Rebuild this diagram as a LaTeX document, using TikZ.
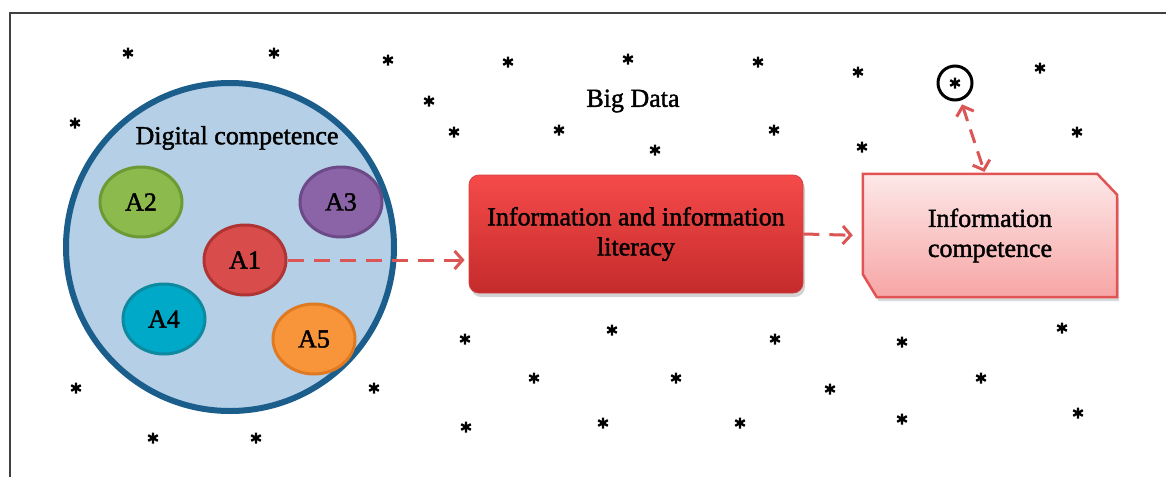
\documentclass[tikz,border=0pt]{standalone}
\usepackage{fontspec}
\setmainfont{Liberation Serif}[FakeBold=1.6]
\usetikzlibrary{positioning, arrows.meta, shadows, shapes.geometric}
\pgfdeclarelayer{background}
\pgfsetlayers{background,main}
\definecolor{poolfill}{HTML}{B4CFE6}
\definecolor{pooledge}{HTML}{1B5E8C}
\definecolor{dashred}{HTML}{DC5555}
\tikzset{
    x=1pt, y=-1pt, % one unit is one pixel of the reference, y grows downwards
    every node/.style={font=\fontsize{26}{30}\selectfont},
    blob/.style={ % the five small competence areas
        ellipse, draw, line width=3pt,
        minimum width=82pt, minimum height=70pt, inner sep=0pt
    },
    dasharrow/.style={ % red dashed connectors
        draw=dashred, line width=3pt, dash pattern=on 16pt off 10pt,
        -{Straight Barb[length=8pt,width=18pt,line width=3pt]}
    },
    ast/.pic={ % one asterisk of the big data cloud
        \draw[line width=2.4pt] (0,-5.5) -- (0,5.5)
            (-4.8,-2.8) -- (4.8,2.8) (-4.8,2.8) -- (4.8,-2.8);
    }
}
\begin{document}
\begin{tikzpicture}
    \useasboundingbox (0,0) rectangle (1166,477);
    \draw[line width=1.5pt, black!75] (10,477) -- (10,13) -- (1166,13);

    % big data cloud
    \foreach \p in {(128,53),(274,53),(388,60),(508,62),(628,59),(758,62),(858,72),(1040,68),
                    (75,123),(429,101),(454,132),(559,130),(655,150),(774,130),(862,147),(1077,132),
                    (76,388),(374,388),(153,438),(256,438),
                    (465,339),(612,330),(775,339),(902,342),(1062,328),
                    (534,378),(676,378),(830,389),(981,378),
                    (466,427),(603,423),(740,423),(902,419),(1078,413)}
        \pic at \p {ast};
    \node (bigdata) at (633,101) {Big Data};

    % digital competence
    \node[circle, draw=pooledge, fill=poolfill, line width=6pt, minimum size=328pt] (pool) at (230,247) {};
    \node (pooltitle) at (237,138) {Digital competence};
    \node[blob, fill={rgb,255:red,140;green,186;blue,76}, draw={rgb,255:red,110;green,154;blue,54}] (a2) at (141,202) {A2};
    \node[blob, fill={rgb,255:red,138;green,100;blue,166}, draw={rgb,255:red,108;green,74;blue,136}] (a3) at (341,202) {A3};
    \node[blob, fill={rgb,255:red,217;green,76;blue,76}, draw={rgb,255:red,176;green,52;blue,52}] (a1) at (245,260) {A1};
    \node[blob, fill={rgb,255:red,0;green,169;blue,199}, draw={rgb,255:red,14;green,138;blue,160}] (a4) at (164,319) {A4};
    \node[blob, fill={rgb,255:red,248;green,149;blue,58}, draw={rgb,255:red,224;green,122;blue,34}] (a5) at (314,339) {A5};

    % information literacy
    \node[rounded corners=10pt, minimum width=334pt, minimum height=118pt, align=center,
          top color={rgb,255:red,245;green,74;blue,74}, bottom color={rgb,255:red,197;green,43;blue,43},
          draw={rgb,255:red,210;green,64;blue,64}, line width=0.8pt,
          drop shadow={shadow xshift=2pt, shadow yshift=-4pt, opacity=0.35}]
          (infolit) at (636,234) {Information and information\\literacy};

    % information competence
    \node[minimum width=254pt, minimum height=123pt, align=center] (infocomp) at (990,235.5) {Information\\competence};
    \begin{pgfonlayer}{background}
        \path[draw={rgb,255:red,226;green,84;blue,84}, line width=2.5pt,
              top color={rgb,255:red,253;green,232;blue,232}, bottom color={rgb,255:red,247;green,165;blue,165},
              drop shadow={shadow xshift=2pt, shadow yshift=-4pt, opacity=0.3}]
            (infocomp.north west) -- ([xshift=-20pt]infocomp.north east)
            -- ([yshift=-21pt]infocomp.north east) -- (infocomp.south east)
            -- ([xshift=14pt]infocomp.south west) -- ([yshift=23pt]infocomp.south west) -- cycle;
    \end{pgfonlayer}

    % the single datum picked out
    \node[circle, draw, line width=3pt, minimum size=34pt, inner sep=0pt] (target) at (955,83) {};
    \pic at (target.center) {ast};
    \coordinate[left=5pt of infocomp.north] (landing);

    % connectors
    \draw[dasharrow, shorten >=4pt] (a1.east) -- (a1.east -| infolit.west);
    \draw[dasharrow, shorten >=10pt] (infolit.east) -- (infocomp.west);
    \draw[dasharrow, {Straight Barb[length=8pt,width=18pt,line width=3pt]}-{Straight Barb[length=8pt,width=18pt,line width=3pt]},
          shorten <=4pt, shorten >=2pt, dash pattern=on 14pt off 9pt] (target) -- (landing);
\end{tikzpicture}
\end{document}
